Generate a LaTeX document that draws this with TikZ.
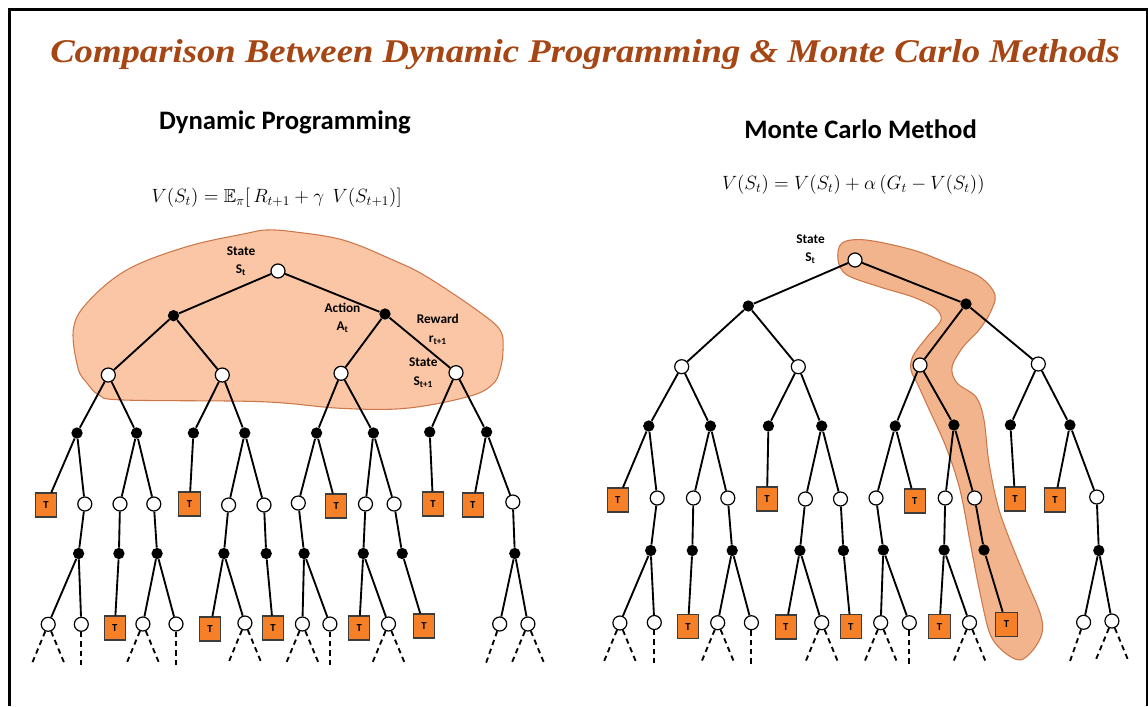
\documentclass[tikz,border=0pt]{standalone}
\usepackage{fontspec}
\usepackage{amssymb}
\setmainfont{Carlito}
\newfontfamily\titlefont{Liberation Serif}
\definecolor{titlec}{RGB}{165,70,20}
\definecolor{blobfill}{RGB}{250,198,166}
\definecolor{hlfill}{RGB}{242,180,140}
\definecolor{blobline}{RGB}{205,120,75}
\definecolor{torange}{RGB}{245,128,40}
\definecolor{tborder}{RGB}{60,60,60}
\begin{document}
\begin{tikzpicture}[x=0.75pt,y=-0.75pt,
  st/.style={circle,draw=black,fill=white,line width=0.9pt,minimum size=10.5pt,inner sep=0pt},
  ac/.style={circle,fill=black,minimum size=8.5pt,inner sep=0pt},
  tm/.style={rectangle,draw=tborder,fill=torange,line width=0.8pt,minimum width=16pt,minimum height=18pt,inner sep=0pt,font=\bfseries\fontsize{8}{9}\selectfont},
  edge/.style={line width=1.4pt,black},
  dsh/.style={line width=1.4pt,black,dash pattern=on 4pt off 3pt},
  lbl/.style={font=\bfseries\fontsize{10}{14}\selectfont,align=center,inner sep=0pt},
  sub/.style={font=\bfseries\fontsize{20}{24}\selectfont,anchor=base,inner sep=0pt},
  frm/.style={font=\fontsize{14}{16}\selectfont,inner sep=0pt},
  blob/.style={fill=blobfill,draw=blobline,line width=0.8pt},
  hl/.style={fill=hlfill,draw=blobline,line width=0.8pt}
]
\useasboundingbox (0,0) rectangle (1148,706);
\fill[white] (0,0) rectangle (1148,706);
\draw[line width=1.65pt] (9.5,706) -- (9.5,9.5) -- (1146.8,9.5) -- (1146.8,706);

% title
\node[anchor=base,inner sep=0pt,text=titlec] (title) at (585,62.7)
  {\resizebox{802pt}{17.25pt}{\titlefont\bfseries\itshape Comparison Between Dynamic Programming \& Monte Carlo Methods}};

% subtitles
\node[sub] (dp) at (285,129.3) {Dynamic Programming};
\node[sub] (mc) at (860.5,138.3) {Monte Carlo Method};

% formulas
\node[frm] (fdp) at (276.7,198) {$V(S_t) = \mathbb{E}_\pi[\,R_{t+1} + \gamma\;\, V(S_{t+1})]$};
\node[frm] (fmc) at (853.3,185) {$V(S_t) = V(S_t) + \alpha\,\bigl(G_t - V(S_t)\bigr)$};

% highlight areas
\draw[blob] plot[smooth cycle,tension=0.6] coordinates {
 (73.3,330) (86.7,303.3) (126.7,270) (186.7,246.7) (246.7,233.3) (266.7,230) (293,231.7)
 (343,240) (393,260) (426.7,276.7) (476.7,310) (500,330) (503,350) (500,370) (492,385)
 (468,396.7) (406,408.3) (340.7,408.3) (261.4,401.7) (123.4,400) (99.3,395) (87.2,383.3) (78,368)};
\draw[hl] plot[smooth cycle,tension=0.55] coordinates {
 (842,243) (866,240) (913,250) (947,263) (980,277) (995,295) (990,313) (979,330) (963,347)
 (952,367) (957,383) (976,397) (984,420) (989,463) (1000,513) (1022,570) (1040,613)
 (1042,633) (1033,650) (1020,660) (1004,652) (990,634) (980,593) (971,547) (960,490)
 (946,447) (928,407) (918,385) (911,370) (913,356) (927,337) (941,320) (935,308)
 (913,297) (880,287) (847,275) (838,260)};

% ---------- left tree ----------
\foreach \n/\x/\y in {r/278/271, s1/108.3/375, s2/222.3/375, s3/341/373.3, s4/456/372.7,
  c2/84.8/504, c3/120/504, c4/153.8/504, c6/228.6/505, c7/264/505, c8/298.3/503,
  c10/365.5/504, c11/394.1/504, c14/512.8/502, e1/48.2/624.3, e2/81.3/624.3,
  e4/142.9/624, e5/176/624, e7/244.9/623, e9/302.4/624, e10/329.9/624, e12/388.5/624,
  e14/499.7/624, e15/527.9/624}
  \node[st] (L\n) at (\x,\y) {};
\foreach \n/\x/\y in {a1/173.5/315.7, a2/385/314, b1/77/433, b2/136.6/433, b3/193.4/433,
  b4/244.8/433, b5/316.6/433, b6/373.4/433, b7/429.7/432, b8/486.6/432,
  d1/78.6/553.5, d2/118.9/553.5, d3/157.1/553.5, d4/223.9/553.5, d5/266.2/553.5,
  d6/304.1/553.5, d7/363.3/553.5, d8/402.2/553.5, d9/514.8/553.5}
  \node[ac] (L\n) at (\x,\y) {};
\foreach \n/\x/\y in {c1/45.9/505, c5/189.5/504, c9/336.2/506, c12/433/504, c13/472.8/505,
  e3/114.7/628, e6/210.1/629, e8/273.1/628, e11/359.2/628, e13/424/626}
  \node[tm] (L\n) at (\x,\y) {T};

% ---------- right tree ----------
\foreach \n/\x/\y in {r/855/260, s1/681.7/366.7, s2/798.3/366.7, s3/920/365, s4/1038.3/364,
  c2/657.2/498, c3/693.4/498, c4/727.8/498, c6/805.4/499, c7/840.5/499, c8/876/498,
  c10/945.2/498, c11/974.6/498, c14/1096.7/497, e1/619.9/623, e2/654.3/622.5,
  e4/717.7/622.7, e5/751.4/622.7, e7/821.7/622.7, e9/880.7/622.7, e10/909.3/622.7,
  e12/969.5/622.7, e14/1083.6/622.3, e15/1111.9/621}
  \node[st] (R\n) at (\x,\y) {};
\foreach \n/\x/\y in {a1/748.3/306, a2/966/304, b1/648.8/426, b2/710.4/426, b3/768.4/426,
  b4/821.7/426, b5/895.2/426, b6/953.9/425, b7/1010.4/425, b8/1069.9/425,
  d1/650.7/550.5, d2/692.3/550.5, d3/732.2/550.5, d4/799.9/550.5, d5/843.4/550.5,
  d6/883.3/550, d7/944.1/550, d8/984/550, d9/1098.8/550.5}
  \node[ac] (R\n) at (\x,\y) {};
\foreach \n/\x/\y in {c1/617.7/500, c5/767/499, c9/914.8/501, c12/1015.1/499, c13/1055/500,
  e3/688/626.7, e6/785.8/627, e8/850.7/626.7, e11/939.4/626.7, e13/1006.4/624.3}
  \node[tm] (R\n) at (\x,\y) {T};

% edges
\foreach \p in {L,R}{
  \foreach \a/\b in {r/a1, r/a2, a1/s1, a1/s2, a2/s3, a2/s4, s1/b1, s1/b2, s2/b3, s2/b4,
    s3/b5, s3/b6, s4/b7, s4/b8, b1/c1, b1/c2, b2/c3, b2/c4, b3/c5, b4/c6, b4/c7, b5/c8,
    b5/c9, b6/c10, b6/c11, b7/c12, b8/c13, b8/c14, c2/d1, c3/d2, c4/d3, c6/d4, c7/d5,
    c8/d6, c10/d7, c11/d8, c14/d9, d1/e1, d1/e2, d2/e3, d3/e4, d3/e5, d4/e6, d4/e7,
    d5/e8, d6/e9, d6/e10, d7/e11, d7/e12, d8/e13, d9/e14, d9/e15}
    \draw[edge] (\p\a) -- (\p\b);
  \foreach \n in {e1,e4,e7,e9,e12,e15}{
    \draw[dsh] (\p\n) -- ++(-17,41);
    \draw[dsh] (\p\n) -- ++(17,41);
  }
  \foreach \n in {e2,e5,e10}
    \draw[dsh] (\p\n) -- ++(0,43);
  \draw[dsh] (\p e14) -- ++(-14,40);
}

% labels
\node[lbl] (l1) at (241,261) {State\\S\textsubscript{t}};
\node[lbl] (l2) at (342.5,318) {Action\\A\textsubscript{t}};
\node[lbl] (l3) at (437.8,329.5) {Reward\\r\textsubscript{t+1}};
\node[lbl] (l4) at (423.3,372.5) {State\\S\textsubscript{t+1}};
\node[lbl] (l5) at (810.5,249) {State\\S\textsubscript{t}};
\end{tikzpicture}
\end{document}
